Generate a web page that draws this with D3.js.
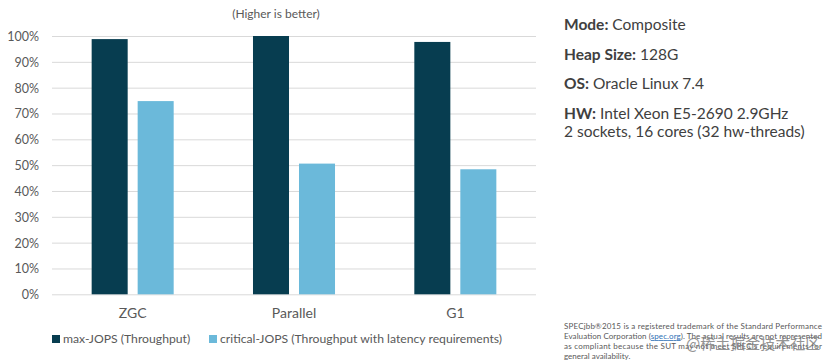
<!DOCTYPE html>
<html><head><meta charset="utf-8">
<script src="https://cdn.jsdelivr.net/npm/d3@7"></script>
<style>body{margin:0;background:#fff;} svg{display:block;}</style>
</head><body>
<svg id="c" width="838" height="360"></svg>
<script>
const categories = ["ZGC", "Parallel", "G1"];
const seriesNames = ["max-JOPS (Throughput)", "critical-JOPS (Throughput with latency requirements)"];
const maxJOPS = [0.988, 1.0, 0.977];
const criticalJOPS = [0.748, 0.506, 0.484];
const yTicks = [0, 0.1, 0.2, 0.3, 0.4, 0.5, 0.6, 0.7, 0.8, 0.9, 1.0];
const colors = ["#073d50", "#6bb9da"];

const svg = d3.select("#c");
const font = "Lato, 'Open Sans', sans-serif";
const y = d3.scaleLinear().domain([0, 1]).range([294.3, 36]);
const x0 = d3.scaleBand().domain(categories).range([52, 536]);
const x1 = d3.scaleBand().domain([0, 1]).range([0, x0.bandwidth()]).paddingInner(0.217).paddingOuter(0.862);

// gridlines
const yAxis = d3.axisLeft(y).tickValues(yTicks).tickSize(0).tickPadding(0).tickFormat(d3.format(".0%"));
const gy = svg.append("g").attr("transform", "translate(52,0)").call(yAxis);
gy.select(".domain").remove();
gy.selectAll(".tick text").attr("x", -13).attr("dy", "0.36em").attr("fill", "#595959").style("font-family", font).style("font-size", "12.5px");
gy.selectAll(".tick").append("line").attr("x1", 0).attr("x2", 484).attr("stroke", "#d9d9d9").attr("stroke-width", 1);

const data = categories.map((c, i) => ({c, v: [maxJOPS[i], criticalJOPS[i]]}));
const g = svg.append("g");
g.selectAll("g").data(data).join("g")
  .attr("transform", d => `translate(${x0(d.c)},0)`)
  .selectAll("rect").data(d => d.v.map((v, k) => ({v, k}))).join("rect")
  .attr("x", d => x1(d.k)).attr("width", x1.bandwidth())
  .attr("y", d => y(d.v)).attr("height", d => y(0) - y(d.v))
  .attr("fill", d => colors[d.k]);

// x labels
const xAxis = d3.axisBottom(x0).tickSize(0).tickPadding(0);
const gx = svg.append("g").attr("transform", "translate(0,294.3)").call(xAxis);
gx.select(".domain").remove();
gx.selectAll(".tick text").attr("y", 24).attr("dy", 0).attr("fill", "#595959").style("font-family", font).style("font-size", "14px");

// title
svg.append("text").attr("x", 276).attr("y", 18).attr("text-anchor", "middle").attr("fill", "#595959")
  .style("font-family", font).style("font-size", "12px").text("(Higher is better)");

// legend
const legX = [52, 209];
const leg = svg.append("g");
seriesNames.forEach((s, i) => {
  leg.append("rect").attr("x", legX[i]).attr("y", 335).attr("width", 8).attr("height", 8).attr("fill", colors[i]);
  leg.append("text").attr("x", legX[i] + 11).attr("y", 343).attr("fill", "#595959")
    .style("font-family", font).style("font-size", "12.2px").text(s);
});

// right info panel
const info = [
  ["Mode:", " Composite", 30],
  ["Heap Size:", " 128G", 60],
  ["OS:", " Oracle Linux 7.4", 89],
  ["HW:", " Intel Xeon E5-2690 2.9GHz", 119],
  ["", "2 sockets, 16 cores (32 hw-threads)", 137]
];
info.forEach(([b, t, yy]) => {
  const tx = svg.append("text").attr("x", 564).attr("y", yy).attr("fill", "#404040")
    .style("font-family", font).style("font-size", "15.5px");
  if (b) tx.append("tspan").style("font-weight", "bold").text(b);
  tx.append("tspan").text(t);
});

// footer
const foot = [
  ["SPECjbb®2015 is a registered trademark of the Standard Performance", 329],
  ["Evaluation Corporation (spec.org). The actual results are not represented", 339],
  ["as compliant because the SUT may not meet SPEC's requirements for", 349],
  ["general availability.", 358.5]
];
foot.forEach(([t, yy], i) => {
  const tx = svg.append("text").attr("x", 564).attr("y", yy).attr("fill", "#595959")
    .style("font-family", font).style("font-size", "8px");
  if (i < 3) tx.attr("textLength", 258).attr("lengthAdjust", "spacing");
  if (i === 1) {
    tx.append("tspan").text("Evaluation Corporation (");
    tx.append("tspan").attr("fill", "#2e6fb5").attr("text-decoration", "underline").text("spec.org");
    tx.append("tspan").text("). The actual results are not represented");
  } else tx.text(t);
});
svg.append("text").attr("x", 686).attr("y", 349).attr("fill", "#7a7a7a").attr("opacity", 0.8)
  .style("font-family", "'Noto Sans CJK SC', sans-serif").style("font-size", "15px").text("@稀土掘金技术社区");
</script>
</body></html>
